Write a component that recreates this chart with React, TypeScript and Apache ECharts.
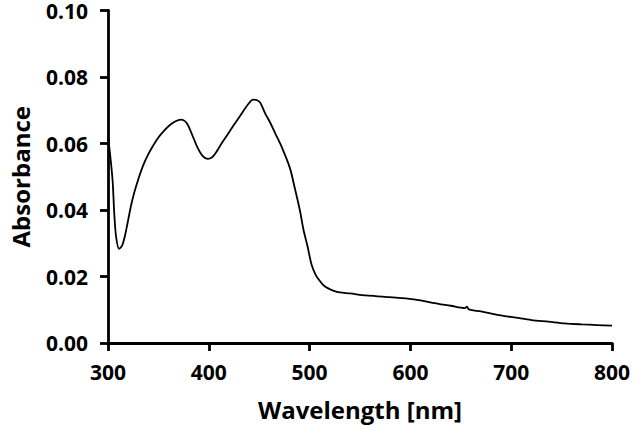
import React, { useEffect, useRef } from "react";
import * as echarts from "echarts";

const wavelengths = [
  300, 302, 304.6, 306.2, 308, 311, 314, 317, 320, 323, 326, 330, 335, 340, 345, 350,
  355.5, 362, 367, 372, 376, 379, 383, 388.5, 394, 399, 403, 406.5, 412, 418, 424, 431, 439, 444,
  448, 451, 456, 460.7, 466, 472.3, 480.5, 485, 490.3, 494, 498, 502, 506, 510, 514, 518,
  524, 530, 540, 556, 575, 599, 610, 622, 640, 654, 656, 658, 670, 688, 705, 720, 737, 753,
  770, 785, 800,
];
const absorbance = [
  0.062, 0.057, 0.0487, 0.039, 0.032, 0.0283, 0.0293, 0.0325, 0.037, 0.0415, 0.0452, 0.0492,
  0.0535, 0.0568, 0.0595, 0.0618, 0.0638, 0.0657, 0.0667, 0.0672, 0.0668, 0.0657, 0.063, 0.059,
  0.0562, 0.0554, 0.0558, 0.057, 0.0597, 0.0624, 0.0652, 0.0683, 0.0718, 0.0732, 0.073, 0.0723,
  0.069, 0.0664, 0.063, 0.059, 0.0526, 0.047, 0.04, 0.034, 0.029, 0.0235, 0.0205, 0.0187, 0.0173,
  0.0165, 0.0157, 0.0152, 0.0149, 0.0143, 0.0139, 0.0133, 0.0128, 0.0121, 0.0112, 0.0105, 0.0109,
  0.0101, 0.0095, 0.0084, 0.0076, 0.0069, 0.0064, 0.0059, 0.0056, 0.0054, 0.0052,
];
const xTicks = { min: 300, max: 800, interval: 100 };
const yTicks = { min: 0, max: 0.1, interval: 0.02 };
const xTitle = "Wavelength [nm]";
const yTitle = "Absorbance";

const FONT = "'Open Sans', sans-serif";

export default function App() {
  const ref = useRef<HTMLDivElement>(null);
  useEffect(() => {
    if (!ref.current) return;
    const chart = echarts.init(ref.current, undefined, { renderer: "svg" });
    const data = wavelengths.map((w, i) => [w, absorbance[i]]);
    const axisCommon = {
      axisLine: { show: true, lineStyle: { color: "#000", width: 2.8 } },
      axisTick: { show: true, inside: false, length: 8, lineStyle: { color: "#000", width: 2.8 } },
      splitLine: { show: false },
      nameLocation: "middle" as const,
      nameTextStyle: { fontFamily: FONT, fontWeight: "bold" as const, fontSize: 24, color: "#000" },
    };
    chart.setOption({
      animation: false,
      backgroundColor: "#fff",
      grid: { left: 107, right: 19, top: 7, bottom: 81, containLabel: false },
      xAxis: {
        type: "value",
        ...xTicks,
        ...axisCommon,
        name: xTitle,
        nameGap: 54,
        axisLabel: {
          fontFamily: FONT,
          fontWeight: "bold",
          fontSize: 21,
          color: "#000",
          margin: 18,
        },
      },
      yAxis: {
        type: "value",
        ...yTicks,
        ...axisCommon,
        name: yTitle,
        nameGap: 76,
        axisLabel: {
          fontFamily: FONT,
          fontWeight: "bold",
          fontSize: 21,
          lineHeight: 14,
          color: "#000",
          margin: 20,
          formatter: (v: number) => v.toFixed(2),
        },
      },
      series: [
        {
          type: "line",
          data,
          smooth: 0.3,
          showSymbol: false,
          lineStyle: { color: "#000", width: 1.8 },
        },
      ],
    });
    return () => chart.dispose();
  }, []);
  return <div ref={ref} style={{ width: 633, height: 426, position: "absolute", left: 0, top: 0 }} />;
}
